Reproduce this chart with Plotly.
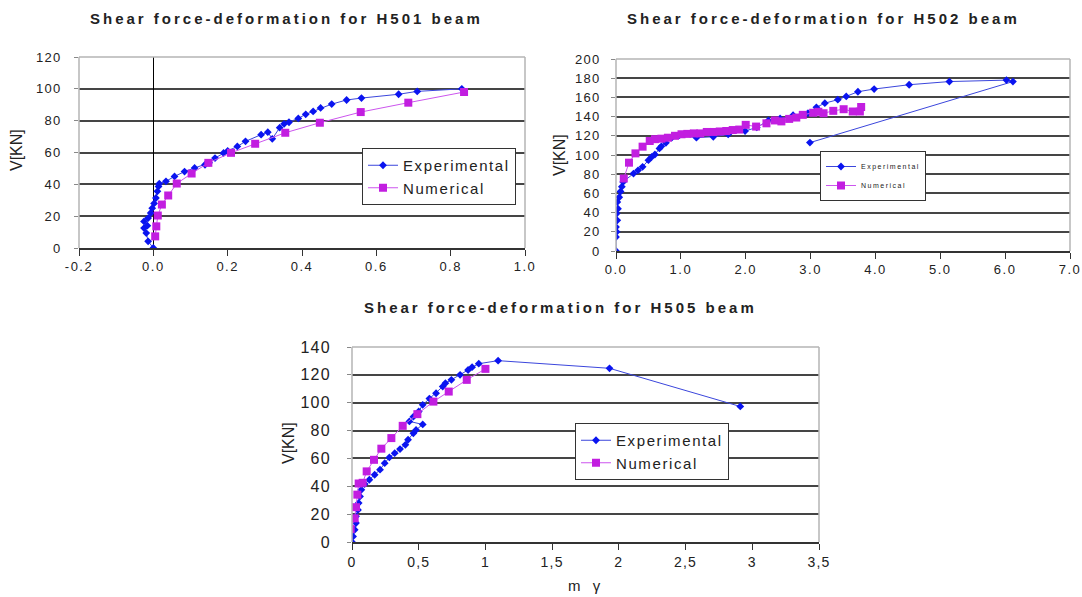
import plotly.graph_objects as go

# ---------------- data ----------------
# H501 beam
x501_exp = [0, -0.014, -0.019, -0.025, -0.016, -0.025, -0.014, -0.007, -0.003, 0.002, 0.007, 0.011,
            0.014, 0.016, 0.034, 0.057, 0.084, 0.111, 0.139, 0.150, 0.166, 0.189, 0.200, 0.226,
            0.248, 0.290, 0.308, 0.320, 0.340, 0.352, 0.365, 0.390, 0.410, 0.430, 0.450, 0.480,
            0.520, 0.560, 0.660, 0.710, 0.830]
y501_exp = [0, 4.2, 9.4, 12.5, 14.0, 16.7, 18.8, 22.0, 25.0, 28.0, 31.4, 35.6,
            38.7, 40.4, 41.9, 45.0, 48.0, 50.3, 52.3, 53.5, 56.5, 59.7, 61.0, 63.8,
            67.0, 71.2, 72.8, 68.6, 75.6, 78.0, 79.0, 81.4, 84.0, 85.8, 88.0, 90.4,
            93.0, 94.2, 96.6, 98.4, 100.0]
x501_num = [0.005, 0.008, 0.012, 0.023, 0.040, 0.063, 0.103, 0.148, 0.209, 0.274, 0.355, 0.448,
            0.558, 0.686, 0.836]
y501_num = [7.3, 13.6, 20.4, 27.3, 33.0, 40.5, 46.8, 53.5, 59.8, 65.5, 72.4, 78.7,
            85.4, 91.3, 98.0]

# H502 beam
x502_exp = [0, 0, 0.01, 0, 0.02, 0.01, 0.03, 0.02, 0.05, 0.07, 0.09, 0.11, 0.27, 0.34, 0.41,
            0.50, 0.55, 0.60, 0.67, 0.70, 0.77, 0.86, 0.98, 1.24, 1.50, 1.73, 1.99, 2.17, 2.35,
            2.53, 2.73, 2.96, 3.09, 3.22, 3.42, 3.55, 3.73, 3.98, 4.52, 5.14, 6.02, 6.12, 2.99]
y502_exp = [0, 14.6, 20, 25, 32, 39, 44, 51, 56, 62, 67, 72, 80.7, 84, 87.7,
            94.6, 98, 100.5, 106.8, 109, 112.7, 118, 120.7, 118, 119, 121.4, 125, 128.7, 136,
            138, 141.5, 143.6, 149.7, 154, 157.6, 161, 165.9, 168.7, 173.2, 176.5, 178, 176.5, 112.9]
x502_num = [0.12, 0.20, 0.30, 0.41, 0.52, 0.60, 0.70, 0.80, 0.91, 1.01, 1.10, 1.20, 1.30, 1.40,
            1.50, 1.60, 1.70, 1.80, 1.90, 2.00, 2.16, 2.32, 2.45, 2.55, 2.67, 2.78, 2.88, 3.04,
            3.12, 3.20, 3.35, 3.51, 3.65, 3.76, 3.78]
y502_num = [75.5, 92, 101.7, 108.7, 114.6, 116.5, 117, 118, 120, 121.6, 122, 122.5, 122.5, 124,
            124, 124.5, 125, 126, 126.5, 131.4, 129.6, 133, 136, 135, 137.6, 139, 141.8, 144,
            145, 143.5, 146, 147.7, 145.3, 145.3, 150]

# H505 beam
x505_exp = [0, 0.008, 0.02, 0.03, 0.03, 0.045, 0.05, 0.06, 0.07, 0.095, 0.13, 0.17, 0.21, 0.245,
            0.28, 0.32, 0.36, 0.40, 0.42, 0.46, 0.48, 0.53, 0.43, 0.46, 0.50, 0.53, 0.58, 0.63,
            0.68, 0.70, 0.745, 0.81, 0.87, 0.90, 0.95, 1.095, 1.93, 2.91]
y505_exp = [0, 4, 8.8, 13.6, 18.4, 23, 28, 32.7, 37.5, 41.6, 44.7, 48.3, 51.9, 56.6,
            60.7, 63.8, 66.7, 69.8, 73.4, 78, 80.5, 84.4, 86.6, 90, 93.7, 98.5, 103, 106.8,
            111.6, 114, 116.4, 120, 123.5, 125.5, 128, 130.2, 124.7, 97.3]
x505_num = [-0.01, 0.02, 0.03, 0.04, 0.05, 0.08, 0.11, 0.165, 0.22, 0.295, 0.38, 0.49, 0.61,
            0.725, 0.86, 1.0]
y505_num = [9.3, 17, 25, 34, 42, 42.5, 50.7, 59, 67, 74.6, 83.4, 91.8, 100.8,
            108, 116.4, 124.3]

titles = ["Shear force-deformation for H501 beam",
          "Shear force-deformation for H502 beam",
          "Shear force-deformation for H505 beam"]
series_names = ["Experimental", "Numerical"]
y_title = "V[KN]"
x_title3 = "m γ"

x1_ticks = [-0.2, 0.0, 0.2, 0.4, 0.6, 0.8, 1.0]
x1_labels = ["-0.2", "0.0", "0.2", "0.4", "0.6", "0.8", "1.0"]
y1_ticks = [0, 20, 40, 60, 80, 100, 120]
x2_ticks = [0, 1, 2, 3, 4, 5, 6, 7]
x2_labels = ["0.0", "1.0", "2.0", "3.0", "4.0", "5.0", "6.0", "7.0"]
y2_ticks = [0, 20, 40, 60, 80, 100, 120, 140, 160, 180, 200]
x3_ticks = [0, 0.5, 1, 1.5, 2, 2.5, 3, 3.5]
x3_labels = ["0", "0,5", "1", "1,5", "2", "2,5", "3", "3,5"]
y3_ticks = [0, 20, 40, 60, 80, 100, 120, 140]

# ---------------- styling ----------------
W, H = 1082, 597
FONT = "Arial, Liberation Sans, sans-serif"
EXP_LINE = "#3b46dc"
EXP_MARK = "#0a14f0"
NUM_LINE = "#cc55ee"
NUM_MARK = "#c21ee0"
GRID = "#454545"
BORDER = "#b4b4b4"
TXT = "#222222"


def sp(text, ls):
    return '<span style="letter-spacing:%spx">%s</span>' % (ls, text)


def px_x(v):
    return v / W


def px_y(v):
    return 1 - v / H


# plot areas in pixels: (left, right, top, bottom)
areas = [(79, 525, 57, 248), (616, 1070, 59, 251), (352, 819, 347, 542)]

fig = go.Figure()

data_sets = [
    (x501_exp, y501_exp, x501_num, y501_num),
    (x502_exp, y502_exp, x502_num, y502_num),
    (x505_exp, y505_exp, x505_num, y505_num),
]
legend_ids = ["legend", "legend2", "legend3"]
leg_ls = [1.6, 1.5, 1.6]
marker_sizes = [(6, 8), (6, 8), (6, 8)]

for i, (xe, ye, xn, yn) in enumerate(data_sets):
    ax = "" if i == 0 else str(i + 1)
    fig.add_trace(go.Scatter(
        x=xe, y=ye, mode="lines+markers", name=sp(series_names[0], leg_ls[i]),
        line=dict(color=EXP_LINE, width=1),
        marker=dict(symbol="diamond", size=marker_sizes[i][0], color=EXP_MARK),
        xaxis="x" + ax, yaxis="y" + ax, legend=legend_ids[i]))
    fig.add_trace(go.Scatter(
        x=xn, y=yn, mode="lines+markers", name=sp(series_names[1], leg_ls[i]),
        line=dict(color=NUM_LINE, width=1),
        marker=dict(symbol="square", size=marker_sizes[i][1], color=NUM_MARK),
        xaxis="x" + ax, yaxis="y" + ax, legend=legend_ids[i]))

xcfg = [
    dict(range=[-0.2, 1.0], tickvals=x1_ticks, ticktext=[sp(t, 1.5) for t in x1_labels],
         zeroline=True, zerolinecolor="#000000", zerolinewidth=1, tickfont=dict(size=13)),
    dict(range=[0, 7], tickvals=x2_ticks, ticktext=[sp(t, 1.5) for t in x2_labels],
         zeroline=False, tickfont=dict(size=13)),
    dict(range=[0, 3.5], tickvals=x3_ticks, ticktext=[sp(t, 1.2) for t in x3_labels],
         zeroline=False, tickfont=dict(size=14)),
]
ycfg = [
    dict(range=[0, 120], tickvals=y1_ticks, ticktext=[sp(str(t), 1.2) for t in y1_ticks],
         tickfont=dict(size=13), ticklabelstandoff=10),
    dict(range=[0, 200], tickvals=y2_ticks, ticktext=[sp(str(t), 1.2) for t in y2_ticks],
         tickfont=dict(size=13), ticklabelstandoff=8),
    dict(range=[0, 140], tickvals=y3_ticks, ticktext=[sp(str(t), 1.2) for t in y3_ticks],
         tickfont=dict(size=16), ticklabelstandoff=13),
]

layout = dict(
    width=W, height=H, margin=dict(l=0, r=0, t=0, b=0, autoexpand=False),
    paper_bgcolor="white", plot_bgcolor="white",
    font=dict(family=FONT, color=TXT),
    showlegend=True,
)

for i, (l, r, t, b) in enumerate(areas):
    ax = "" if i == 0 else str(i + 1)
    xc = dict(domain=[px_x(l), px_x(r)], anchor="y" + ax, showgrid=False,
              showline=True, linecolor="#333333", linewidth=1.5,
              ticks="outside", ticklen=6, tickcolor="#333333", tickwidth=1.2,
              fixedrange=True, automargin=False)
    xc.update(xcfg[i])
    xc["tickfont"] = dict(family=FONT, color=TXT, size=xcfg[i]["tickfont"]["size"])
    yc = dict(domain=[px_y(b), px_y(t)], anchor="x" + ax, showgrid=True,
              gridcolor=GRID, gridwidth=1.5, showline=False, zeroline=False,
              ticks="outside", ticklen=4, tickcolor="#888888", fixedrange=True,
              automargin=False)
    yc.update(ycfg[i])
    yc["tickfont"] = dict(family=FONT, color=TXT, size=ycfg[i]["tickfont"]["size"])
    layout["xaxis" + ax] = xc
    layout["yaxis" + ax] = yc

# (left px, top px, font size)
legend_pos = [(362, 148, 15), (820, 151, 7), (575, 423, 15)]
for i, (lx, ly, fs) in enumerate(legend_pos):
    layout[legend_ids[i]] = dict(
        x=px_x(lx), y=px_y(ly), xanchor="left", yanchor="top",
        bgcolor="white", bordercolor="#333333", borderwidth=1,
        font=dict(family=FONT, size=fs, color=TXT),
        tracegroupgap=0)

fig.update_layout(**layout)

# plot-area frame (left, top, right) in light grey
shapes = []
for i in range(3):
    ax = "" if i == 0 else str(i + 1)
    xr, yr = "x" + ax + " domain", "y" + ax + " domain"
    for (x0, y0, x1, y1) in [(0, 0, 0, 1), (0, 1, 1, 1), (1, 0, 1, 1)]:
        shapes.append(dict(type="line", xref=xr, yref=yr, x0=x0, y0=y0, x1=x1, y1=y1,
                           line=dict(color=BORDER, width=1.5), layer="above"))
fig.update_layout(shapes=shapes)

# titles
title_pos = [(286, 19), (823, 19), (560, 307)]
annotations = []
for (tx, ty), txt in zip(title_pos, titles):
    annotations.append(dict(x=px_x(tx), y=px_y(ty), xref="paper", yref="paper",
                            text="<b>" + sp(txt, 3) + "</b>", showarrow=False,
                            xanchor="center", yanchor="middle",
                            font=dict(family=FONT, size=15, color=TXT)))
# y axis titles
ytitle_pos = [(16, 150), (559, 155), (288, 443)]
for (tx, ty) in ytitle_pos:
    annotations.append(dict(x=px_x(tx), y=px_y(ty), xref="paper", yref="paper",
                            text=y_title, textangle=-90, showarrow=False,
                            xanchor="center", yanchor="middle",
                            font=dict(family=FONT, size=16, color=TXT)))
# x axis title of bottom chart
annotations.append(dict(x=px_x(586), y=px_y(585), xref="paper", yref="paper",
                        text=sp(x_title3, 4), showarrow=False,
                        xanchor="center", yanchor="middle",
                        font=dict(family=FONT, size=15, color=TXT)))
fig.update_layout(annotations=annotations)

fig.write_html("out.html")
